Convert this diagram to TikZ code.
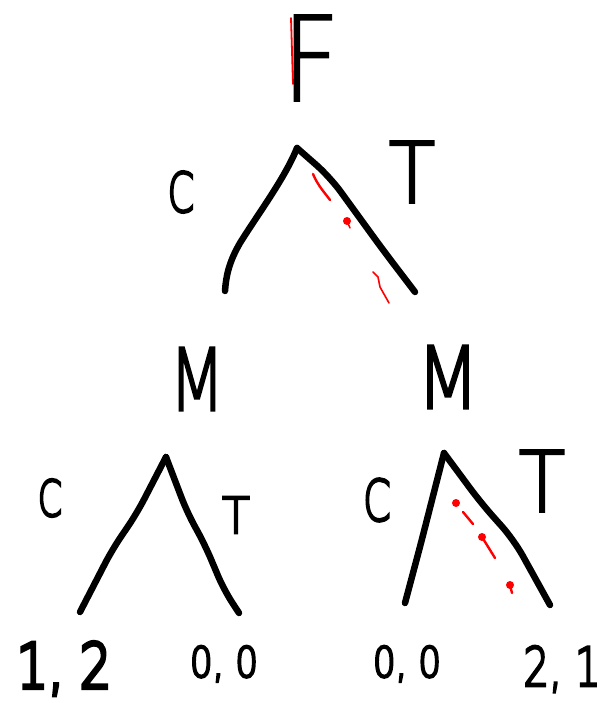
\documentclass[tikz,border=0pt]{standalone}
\usepackage{fontspec}
\IfFontExistsTF{DejaVu Sans ExtraLight}
  {\setmainfont{DejaVu Sans ExtraLight}}
  {\setmainfont{Fira Sans}}
\newcommand{\hw}[2]{\fontsize{#1}{#1}\selectfont\addfontfeature{FakeBold=#2}}
\begin{document}
\begin{tikzpicture}[x=1pt,y=-1pt,
  branch/.style={line width=6.5pt,line cap=round,line join=round,black},
  redmark/.style={line width=2.4pt,line cap=round,red},
  reddot/.style={fill=red,draw=none},
  lbl/.style={inner sep=0pt,anchor=center},
  pay/.style={inner sep=0pt,anchor=base}]
\useasboundingbox (0,0) rectangle (605,703);
\fill[white] (0,0) rectangle (605,703);
% --- red stroke along F stem (partly hidden by the stem)
\draw[red,line width=1.8pt,line cap=round] (291,18) -- (293,84);
% --- labels
\node[lbl,xscale=0.85,transform shape] (F) at (311,58) {\hw{118}{1.5}F};
\node[lbl,xscale=0.7,transform shape] (C0) at (181,192) {\hw{55}{4.5}C};
\node[lbl,xscale=0.9,transform shape] (T0) at (412,172) {\hw{84}{3}T};
\node[lbl,xscale=0.75,transform shape] (M1) at (197,379) {\hw{86}{3}M};
\node[lbl,xscale=0.85,transform shape] (M2) at (448,377) {\hw{86}{3}M};
\node[lbl,xscale=0.7,transform shape] (C1) at (50,498) {\hw{50}{5}C};
\node[lbl,xscale=0.9,transform shape] (T1) at (236,515) {\hw{50}{5}T};
\node[lbl,xscale=0.7,transform shape] (C2) at (377,500) {\hw{57}{4.5}C};
\node[lbl,xscale=0.9,transform shape] (T2) at (542,481) {\hw{84}{3}T};
\node[pay,xscale=0.8,transform shape] (P1) at (64,688) {\hw{62}{7}1, 2};
\node[pay,xscale=0.85,transform shape] (P2) at (224,677) {\hw{42}{6}0, 0};
\node[pay,xscale=0.85,transform shape] (P3) at (407,677) {\hw{42}{6}0, 0};
\node[pay,xscale=0.75,transform shape] (P4) at (562,686) {\hw{54}{5}2, 1};
% --- tree coordinates
\coordinate (R) at (297,148);
\coordinate (RL) at (225,291);
\coordinate (RR) at (415,292);
\coordinate (A1) at (166,457);
\coordinate (A1L) at (80,612);
\coordinate (A1R) at (239,613);
\coordinate (A2) at (444,453);
\coordinate (A2L) at (405,603);
\coordinate (A2R) at (550,605);
% --- root branches
\draw[branch] (R) .. controls (285,178) and (258,214) .. (240,243)
              .. controls (229,262) and (226,276) .. (RL);
\draw[branch,rounded corners=18pt] (R) -- (330,177) -- (383,250) -- (RR);
% --- left subtree
\draw[branch,rounded corners=15pt] (A1) -- (137,513) -- (112,550) -- (A1L);
\draw[branch,rounded corners=15pt] (A1) -- (187,512) -- (205,545) -- (224,590) -- (A1R);
% --- right subtree
\draw[branch,rounded corners=15pt] (A2) -- (421,543) -- (A2L);
\draw[branch,rounded corners=18pt] (A2) -- (481,503) -- (514,540) -- (A2R);
% --- red marks on root T branch
\draw[redmark] (313,174) .. controls (318,186) and (325,193) .. (330,200);
\fill[reddot] (347,221) circle (4);
\draw[redmark,line width=1.5pt] (347,221) -- (350,228);
\draw[redmark,line width=1.6pt] (373,272) -- (378,277) -- (380,287) -- (389,303);
% --- red marks on right subtree T branch
\fill[reddot] (456,503) circle (4);
\draw[redmark] (463,512) -- (473,524);
\fill[reddot] (482,537) circle (4);
\draw[redmark] (482,537) -- (495,558);
\fill[reddot] (510,585) circle (4);
\draw[redmark] (510,585) -- (512,593);
\end{tikzpicture}
\end{document}
